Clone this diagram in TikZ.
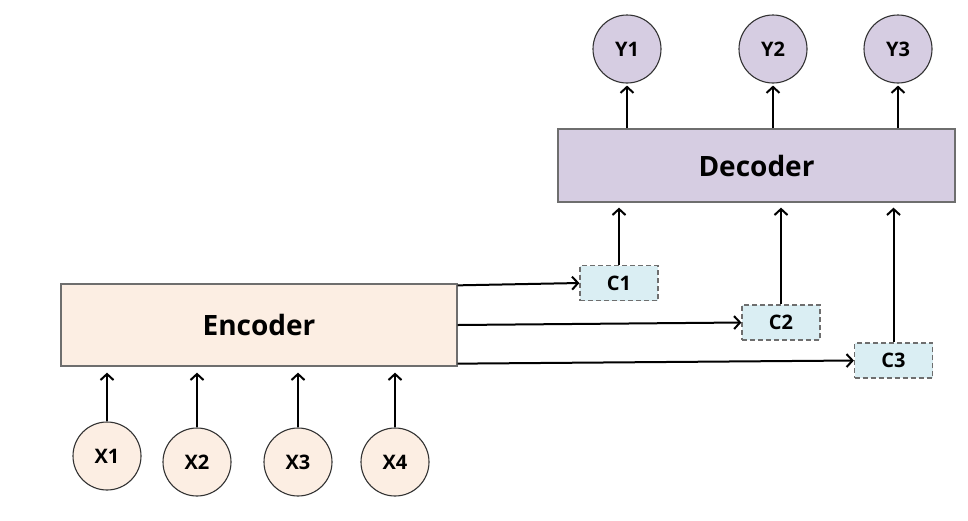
\documentclass[tikz,border=0pt]{standalone}
\usepackage{fontspec}
\setmainfont{Open Sans}
\usetikzlibrary{arrows.meta}
\definecolor{peach}{HTML}{FCEEE3}
\definecolor{lav}{HTML}{D6CDE2}
\definecolor{lblue}{HTML}{DAEEF3}
\definecolor{edge}{HTML}{6E6E6E}
\begin{document}
\begin{tikzpicture}[x=1pt,y=-1pt,
  blk/.style={draw=edge, line width=1.3pt, inner sep=0pt, font=\fontsize{28}{32}\selectfont\bfseries},
  circ/.style={circle, draw=black!80, line width=1.1pt, minimum size=68pt, inner sep=0pt, font=\fontsize{20}{24}\selectfont\bfseries},
  ctx/.style={draw=edge, dash pattern=on 5pt off 3pt, line width=1.2pt, fill=lblue, minimum width=78pt, minimum height=35pt, inner sep=0pt, font=\fontsize{20}{24}\selectfont\bfseries},
  arr/.style={line width=2pt, -{Straight Barb[length=6pt,width=13pt,line width=2pt]}}
]
\useasboundingbox (0,0) rectangle (968,520);
\fill[white] (0,0) rectangle (968,520);
% encoder
\node[blk, fill=peach, minimum width=396pt, minimum height=82pt] (enc) at (259,325) {Encoder};
\node[blk, fill=lav, minimum width=397pt, minimum height=73pt] (dec) at (756.5,165.5) {Decoder};
% inputs
\node[circ, fill=peach] (x1) at (107,456) {X1};
\node[circ, fill=peach] (x2) at (197,462) {X2};
\node[circ, fill=peach] (x3) at (298,462) {X3};
\node[circ, fill=peach] (x4) at (395,462) {X4};
% outputs
\node[circ, fill=lav] (y1) at (627,49) {Y1};
\node[circ, fill=lav] (y2) at (773,49) {Y2};
\node[circ, fill=lav] (y3) at (898,49) {Y3};
% contexts
\node[ctx] (c1) at (619,283) {C1};
\node[ctx] (c2) at (781,322.5) {C2};
\node[ctx] (c3) at (893.5,360.5) {C3};
% input arrows
\foreach \n in {x1,x2,x3,x4}{
  \draw[arr, shorten >=6pt] (\n.north) -- (\n.north |- enc.south);
}
% output arrows
\draw[arr, shorten >=2pt] (y1.south |- dec.north) -- (y1.south);
\draw[arr, shorten >=2pt] (y2.south |- dec.north) -- (y2.south);
\draw[arr, shorten >=2pt] (y3.south |- dec.north) -- (y3.south);
% encoder to contexts
\coordinate (e1) at ([yshift=-2pt]enc.north east);
\coordinate (e2) at (enc.east);
\coordinate (e3) at ([yshift=3pt]enc.south east);
\draw[arr] (e1) -- (c1.west);
\draw[arr] (e2) -- (c2.west);
\draw[arr] (e3) -- (c3.west);
% contexts to decoder
\draw[arr, shorten >=5pt] (c1.north) -- (c1.north |- dec.south);
\draw[arr, shorten >=5pt] (c2.north) -- (c2.north |- dec.south);
\draw[arr, shorten >=5pt] (c3.north) -- (c3.north |- dec.south);
\end{tikzpicture}
\end{document}
